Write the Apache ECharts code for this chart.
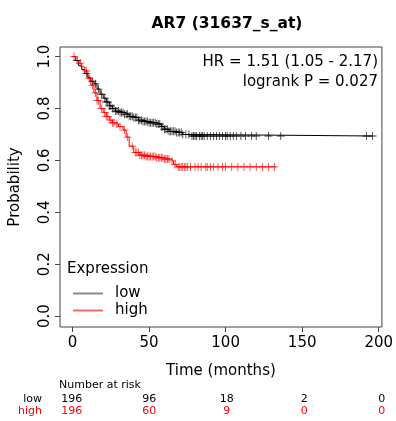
<!DOCTYPE html>
<html>
<head>
<meta charset="utf-8">
<script src="https://cdn.jsdelivr.net/npm/echarts@6/dist/echarts.min.js"></script>
<style>html,body{margin:0;padding:0;background:#fff}#c{width:396px;height:421px}</style>
</head>
<body>
<div id="c"></div>
<script>
// Kaplan-Meier step curves: [months, survival probability]
var lowCurve = [[0,1.0],[2,0.985],[4,0.965],[6,0.95],[8,0.935],[10,0.92],[12,0.905],[14,0.895],[16,0.875],[18,0.855],[20,0.84],[22,0.825],[24,0.81],[26,0.80],[28,0.79],[31,0.785],[34,0.778],[37,0.77],[40,0.765],[43,0.755],[46,0.75],[50,0.745],[55,0.74],[58,0.73],[60,0.72],[63,0.712],[68,0.708],[72,0.70],[78,0.694],[196,0.694]];
var highCurve = [[0,1.0],[2,0.985],[4,0.975],[6,0.96],[8,0.945],[10,0.915],[12,0.89],[14,0.86],[16,0.83],[18,0.80],[20,0.785],[22,0.77],[24,0.755],[26,0.745],[28,0.74],[30,0.73],[33,0.717],[35,0.69],[37,0.655],[40,0.63],[44,0.62],[48,0.615],[55,0.61],[60,0.605],[64,0.598],[66,0.585],[68,0.575],[133,0.575]];
// censoring times (months)
var lowCensor = [3,9,13,15,17,19,21,22,23,24,25,26,27,28,29,30,31,32,33,34,35,36,37,38,39,40,41,42,43,44,45,46,47,48,49,50,51,52,53,54,55,56,57,58,59,60,61,62,63,64,65,66,67,68,69,70,71,72,74,76,78,79,80,81,83,84,85,86,88,90,92,94,96,98,100,101,103,105,107,110,113,117,120,128,136,192,196];
var highCensor = [1,5,9,11,13,15,16,17,19,21,22,23,25,26,27,29,31,34,36,39,41,42,43,44,45,46,47,48,49,50,51,52,53,54,55,56,57,58,59,60,61,62,63,65,67,69,70,71,72,73,74,75,77,80,82,84,87,88,90,92,95,98,100,104,108,112,116,120,124,128,132];
var xTicks = [0,50,100,150,200];
var yTicks = [0,0.2,0.4,0.6,0.8,1.0];
var riskTimes = [0,50,100,150,200];
var riskLow = [196,96,18,2,0];
var riskHigh = [196,60,9,0,0];

function stepAt(curve, t){
  var y = curve[0][1];
  for (var i=0;i<curve.length;i++){ if (curve[i][0] <= t) y = curve[i][1]; }
  return y;
}
function censorPts(curve, times){ return times.map(function(t){ return [t, stepAt(curve,t)]; }); }

var plus = 'path://M4.5,0H5.5V4.5H10V5.5H5.5V10H4.5V5.5H0V4.5H4.5Z';
var FONT = 'DejaVu Sans';
var chart = echarts.init(document.getElementById('c'), null, {renderer:'canvas'});

var gridL = 59, gridR = 385, gridT = 47, gridB = 327;
var xMin = -8.2, xMax = 202.1;
function xPix(v){ return gridL + (v - xMin) / (xMax - xMin) * (gridR - gridL); }

var graphics = [
  {type:'text', x: 59, y: 385, style:{text:'Number at risk', font:'11px "DejaVu Sans"', fill:'#000', verticalAlign:'middle'}},
  {type:'text', x: 42, y: 399, style:{text:'low', font:'11px "DejaVu Sans"', fill:'#000', align:'right', verticalAlign:'middle'}},
  {type:'text', x: 42, y: 411, style:{text:'high', font:'11px "DejaVu Sans"', fill:'#ff0000', align:'right', verticalAlign:'middle'}}
];
riskTimes.forEach(function(t,i){
  graphics.push({type:'text', x: xPix(t), y: 399, style:{text:String(riskLow[i]), font:'11px "DejaVu Sans"', fill:'#000', align:'center', verticalAlign:'middle'}});
  graphics.push({type:'text', x: xPix(t), y: 411, style:{text:String(riskHigh[i]), font:'11px "DejaVu Sans"', fill:'#ff0000', align:'center', verticalAlign:'middle'}});
});
graphics.push({type:'text', x: 378, y: 62, style:{text:'HR = 1.51 (1.05 - 2.17)', font:'15px "DejaVu Sans"', fill:'#000', align:'right', verticalAlign:'middle'}});
graphics.push({type:'text', x: 378, y: 82, style:{text:'logrank P = 0.027', font:'15px "DejaVu Sans"', fill:'#000', align:'right', verticalAlign:'middle'}});
graphics.push({type:'text', x: 67, y: 269, style:{text:'Expression', font:'15px "DejaVu Sans"', fill:'#000', align:'left', verticalAlign:'middle'}});

chart.setOption({
  animation:false,
  backgroundColor:'#fff',
  title:{text:'AR7 (31637_s_at)', left:222, top:11, textAlign:'center', textStyle:{fontFamily:FONT, fontSize:15.5, fontWeight:'bold', color:'#000'}},
  grid:{left:gridL, right:396-gridR, top:gridT, bottom:421-gridB, show:true, borderColor:'#444', borderWidth:1, backgroundColor:'transparent'},
  legend:{orient:'vertical', left:68, top:281, itemWidth:30, itemHeight:2, itemGap:2, icon:'rect',
    textStyle:{fontFamily:FONT, fontSize:15, color:'#000', padding:[0,0,0,7]},
    data:[{name:'low', itemStyle:{color:'#888'}},{name:'high', itemStyle:{color:'#ff6666'}}]},
  xAxis:{type:'value', min:xMin, max:xMax,
    name:'Time (months)', nameLocation:'middle', nameGap:37, nameTextStyle:{fontFamily:FONT, fontSize:15, color:'#000'},
    axisLine:{show:false, onZero:false}, splitLine:{show:false},
    axisTick:{show:true, length:5, customValues:xTicks, lineStyle:{color:'#444'}},
    axisLabel:{customValues:xTicks, fontFamily:FONT, fontSize:15, color:'#000', margin:9}},
  yAxis:{type:'value', min:-0.042, max:1.037,
    name:'Probability', nameLocation:'middle', nameGap:37, nameTextStyle:{fontFamily:FONT, fontSize:15, color:'#000'},
    axisLine:{show:false, onZero:false}, splitLine:{show:false},
    axisTick:{show:true, length:5, customValues:yTicks, lineStyle:{color:'#444'}},
    axisLabel:{customValues:yTicks, rotate:90, fontFamily:FONT, fontSize:15, color:'#000', margin:7,
      formatter:function(v){ return v.toFixed(1); }}},
  graphic: graphics,
  series:[
    {name:'low', type:'line', step:'end', data:lowCurve, showSymbol:false, symbol:'none', lineStyle:{color:'#000', width:1}, itemStyle:{color:'#000'}, z:3},
    {name:'high', type:'line', step:'end', data:highCurve, showSymbol:false, symbol:'none', lineStyle:{color:'#ff0000', width:1}, itemStyle:{color:'#ff0000'}, z:3},
    {name:'low censored', type:'scatter', data:censorPts(lowCurve, lowCensor), symbol:plus, symbolSize:8, itemStyle:{color:'#000', opacity:0.8}, z:4},
    {name:'high censored', type:'scatter', data:censorPts(highCurve, highCensor), symbol:plus, symbolSize:8, itemStyle:{color:'#ff0000', opacity:0.8}, z:4}
  ]
});
</script>
</body>
</html>
